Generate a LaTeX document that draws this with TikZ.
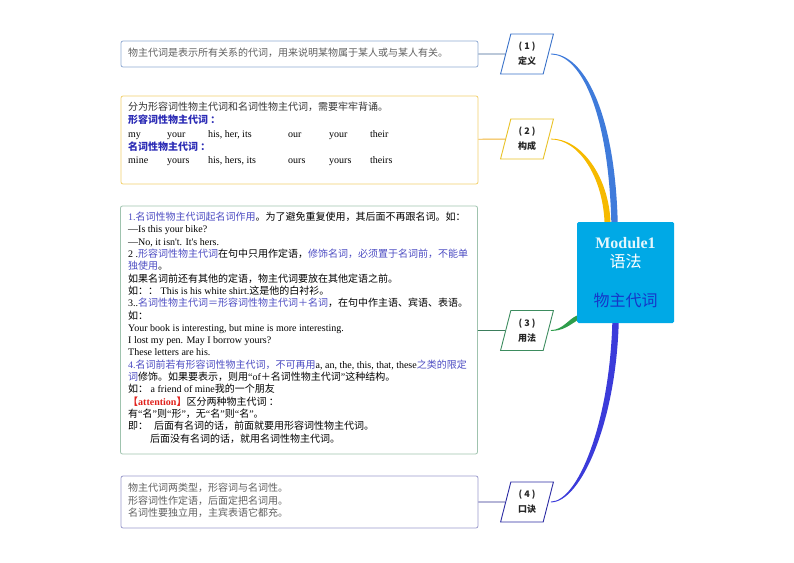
\documentclass[tikz,border=0pt]{standalone}
\usepackage{fontspec}
\setmainfont{Noto Sans CJK SC}
\newfontfamily\enfont{Liberation Serif}
\usetikzlibrary{shapes.geometric}
\usetikzlibrary{positioning}

\definecolor{bd1}{HTML}{8FA9D2}
\definecolor{bd2}{HTML}{F2D06B}
\definecolor{bd3}{HTML}{9FC3AE}
\definecolor{bd4}{HTML}{9A9ACB}
\definecolor{ln1}{HTML}{3D6493}
\definecolor{ln2}{HTML}{F0B233}
\definecolor{ln3}{HTML}{3B7D5C}
\definecolor{ln4}{HTML}{2E2E8F}
\definecolor{pg1}{HTML}{3A72C9}
\definecolor{pg2}{HTML}{E9C227}
\definecolor{pg3}{HTML}{3D8C5F}
\definecolor{pg4}{HTML}{2B2BA3}
\definecolor{br1}{HTML}{3F7BDB}
\definecolor{br2}{HTML}{F6BA00}
\definecolor{br3}{HTML}{2E9D4B}
\definecolor{br4}{HTML}{3B3BDA}
\definecolor{hubfill}{HTML}{00A9E6}
\definecolor{hubblue}{HTML}{1537C9}
\definecolor{hlblue}{HTML}{4B4BC2}
\definecolor{hbblue}{HTML}{2B2BB5}
\definecolor{greytext}{HTML}{5F5F5F}
\definecolor{darktext}{HTML}{333333}
\definecolor{attred}{HTML}{E0201B}

\newcommand{\en}[1]{{\enfont #1}}
\newcommand{\hl}[1]{\textcolor{hlblue}{#1}}
\newcommand{\hb}[1]{\textcolor{hbblue}{\bfseries #1}}
\newcommand{\oq}{\en{“}}
\newcommand{\cq}{\en{”}}

\begin{document}
\begin{tikzpicture}[
    x=1pt, y=-1pt,
    font=\fontsize{10}{12.3}\selectfont
]
\tikzset{
    mybox/.style  = {draw=#1, rounded corners=2pt, line width=0.8pt, minimum width=357pt, inner sep=0pt},
    mytext/.style = {anchor=north west, align=left, inner sep=0pt, text=#1},
    mypara/.style = {trapezium, trapezium left angle=76, trapezium right angle=104,
                     trapezium stretches=true, draw=#1, line width=0.9pt, fill=white,
                     minimum width=53pt, minimum height=40pt, inner sep=1pt, align=center,
                     text=black!85, font=\fontsize{9}{15}\selectfont\bfseries},
    mylink/.style = {draw=#1, line width=0.9pt},
    myhub/.style  = {fill=hubfill, rounded corners=1.5pt, minimum width=97pt, minimum height=101pt,
                     align=center, text=white, font=\fontsize{16}{19.5}\selectfont}
}
\useasboundingbox (0,0) rectangle (794,562);

% center
\node[myhub] at (625.5,272.5) (hub) {\textcolor{white!90!hubfill}{\bfseries\en{Module1}}\\语法\\[19.5pt]\textcolor{hubblue}{物主代词}};

% branches
\node[mypara=pg1] at (527,54)  (p1) {( 1 )\\定义};
\node[mypara=pg2] at (527,139) (p2) {( 2 )\\构成};
\node[mypara=pg3] at (527,330.5) (p3) {( 3 )\\用法};
\node[mypara=pg4] at (527,502) (p4) {( 4 )\\口诀};

\coordinate (e1) at ([xshift=-11pt]hub.north);
\coordinate (e2) at ([xshift=-18pt]hub.north);
\coordinate (e3) at ([yshift=5pt]hub.south west);
\coordinate (e4) at ([xshift=-10pt]hub.south);

\fill[br1] ([xshift=2pt,yshift=0.4pt]p1.east) .. controls +(33,0) and +(-3,-110) .. ([xshift=3.2pt]e1)
    -- ([xshift=-3.2pt]e1) .. controls +(-3,-110) and +(30,0) .. ([xshift=2pt,yshift=-0.4pt]p1.east) -- cycle;
\fill[br2] ([xshift=2pt,yshift=0.4pt]p2.east) .. controls +(31,0) and +(-2,-45) .. ([xshift=3pt]e2)
    -- ([xshift=-3pt]e2) .. controls +(-2,-45) and +(28,0) .. ([xshift=2pt,yshift=-0.4pt]p2.east) -- cycle;
\fill[br3] ([xshift=2pt,yshift=0.4pt]p3.east) .. controls +(12,0) and +(-8,3) .. ([yshift=2.5pt]e3)
    -- ([yshift=-2.5pt]e3) .. controls +(-8,5) and +(12,0) .. ([xshift=2pt,yshift=-0.4pt]p3.east) -- cycle;
\fill[br4] ([xshift=2pt,yshift=-0.4pt]p4.east) .. controls +(30,0) and +(-3,100) .. ([xshift=3.2pt]e4)
    -- ([xshift=-3.2pt]e4) .. controls +(-3,100) and +(27,0) .. ([xshift=2pt,yshift=0.4pt]p4.east) -- cycle;

% boxes
\node[mybox=bd1, minimum height=26pt]  at (299.5,54)  (b1) {};
\node[mybox=bd2, minimum height=88pt]  at (299.5,140) (b2) {};
\node[mybox=bd3, minimum height=248pt] at (299,330)   (b3) {};
\node[mybox=bd4, minimum height=52pt]  at (299.5,502) (b4) {};

\node[mytext=greytext] at (128,48) (t1) {物主代词是表示所有关系的代词，用来说明某物属于某人或与某人有关。};

\node[mytext=darktext, font=\fontsize{10}{13.3}\selectfont] at (128,102) (t2) {%
分为形容词性物主代词和名词性物主代词，需要牢牢背诵。\\
\hb{形容词性物主代词 ：}\\
\textcolor{black}{\en{\makebox[39pt][l]{my}\makebox[41pt][l]{your}\makebox[80pt][l]{his, her, its}\makebox[41pt][l]{our}\makebox[41pt][l]{your}their}}\\
\hb{名词性物主代词 ：}\\
\textcolor{black}{\en{\makebox[39pt][l]{mine}\makebox[41pt][l]{yours}\makebox[80pt][l]{his, hers, its}\makebox[41pt][l]{ours}\makebox[41pt][l]{yours}theirs}}};

\node[mytext=black] at (128,212) (t3) {%
\hl{\en{1.}名词性物主代词起名词作用}。为了避免重复使用，其后面不再跟名词。如：\\
\en{—Is this your bike?}\\
\en{—No, it isn't. It's hers.}\\
\en{2 .}\hl{形容词性物主代词}在句中只用作定语，\hl{修饰名词，必须置于名词前，不能单}\\
\hl{独使用}。\\
如果名词前还有其他的定语，物主代词要放在其他定语之前。\\
如：：\en{ This is his white shirt.}这是他的白衬衫。\\
\en{3..}\hl{名词性物主代词＝形容词性物主代词＋名词}，在句中作主语、宾语、表语。\\
如：\\
\en{Your book is interesting, but mine is more interesting.}\\
\en{I lost my pen. May I borrow yours?}\\
\en{These letters are his.}\\
\hl{\en{4.}名词前若有形容词性物主代词，不可再用}\en{a, an, the, this, that, these}\hl{之类的限定}\\
\hl{词}修饰。如果要表示，则用\oq\en{of}＋名词性物主代词\cq 这种结构。\\
如：\en{ a friend of mine}我的一个朋友\\
\textcolor{attred}{\bfseries 【\en{attention}】}区分两种物主代词 ：\\
有\oq 名\cq 则\oq 形\cq ，无\oq 名\cq 则\oq 名\cq 。\\
即：\hspace{6pt}后面有名词的话，前面就要用形容词性物主代词。\\
\hspace{22pt}后面没有名词的话，就用名词性物主代词。};

\node[mytext=greytext, font=\fontsize{10}{12.5}\selectfont] at (128,483) (t4) {%
物主代词两类型，形容词与名词性。\\
形容词性作定语，后面定把名词用。\\
名词性要独立用，主宾表语它都充。};

% links
\draw[mylink=ln1] (b1) -- (p1);
\draw[mylink=ln2] (b2) -- (p2);
\draw[mylink=ln3] (b3.east |- p3) -- (p3);
\draw[mylink=ln4] (b4) -- (p4);
\end{tikzpicture}
\end{document}
